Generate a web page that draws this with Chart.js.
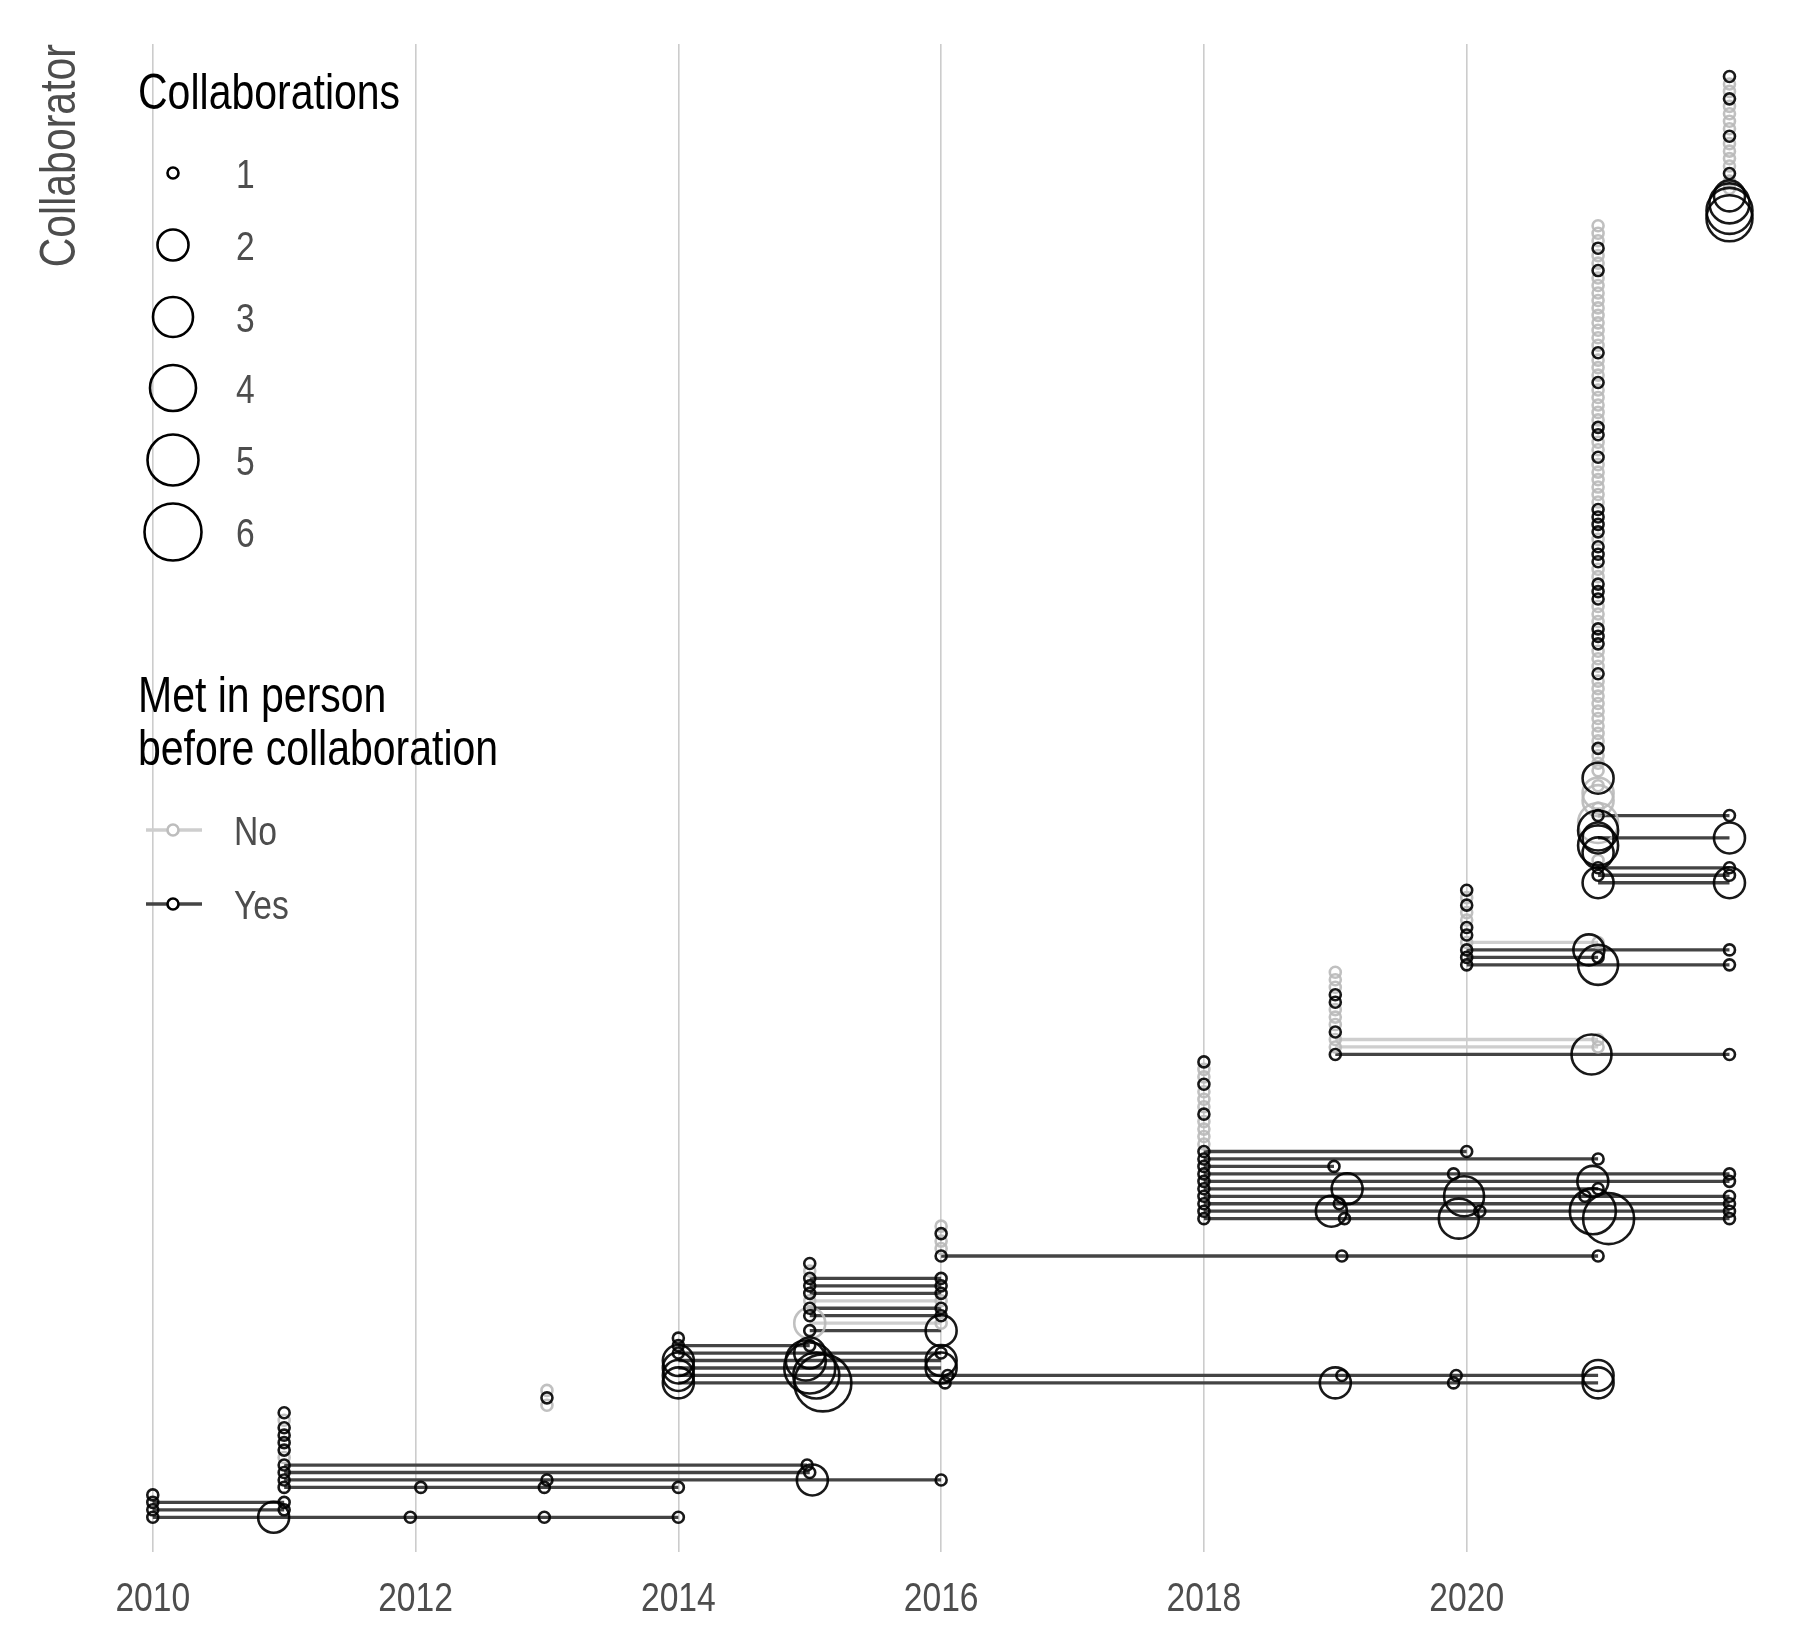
<!DOCTYPE html>
<html lang="en">
<head>
  <meta charset="UTF-8">
  <title>Collaborations over time</title>
  <script src="https://cdn.jsdelivr.net/npm/chart.js"></script>
  <style>
    html, body { margin: 0; padding: 0; background: #ffffff; }
    #wrap { width: 1800px; height: 1650px; }
  </style>
</head>
<body>
  <div id="wrap"><canvas id="collabChart" width="1800" height="1650"></canvas></div>

<script>
  // one row per collaborator, bottom to top, grouped by year of first collaboration.
  // a row is 'Y' / 'N' (met in person before? one collaboration in the cohort year)
  // or [met, year, count, year, count, ...]
  const cohortYears = [2010, 2011, 2013, 2014, 2015, 2016, 2018, 2019, 2020, 2021, 2022]

  const rows2010 = [
    ['Y', 2010, 1, 2010.92, 2, 2011.96, 1, 2012.98, 1, 2014, 1],
    ['Y', 2010, 1, 2011, 1],
    ['Y', 2010, 1, 2011, 1],
    'Y'
  ]
  const rows2011 = [
    ['Y', 2011, 1, 2012.04, 1, 2012.98, 1, 2014, 1],
    ['Y', 2011, 1, 2013, 1, 2015.02, 2, 2016, 1],
    ['Y', 2011, 1, 2015, 1],
    ['Y', 2011, 1, 2014.98, 1],
    ...'NYYYYNY'
  ]
  const rows2013 = [...'NYN']
  const rows2014 = [
    ['Y', 2014, 2, 2015.1, 6, 2016.03, 1, 2019, 2, 2019.9, 1, 2021, 2],
    ['Y', 2014, 2, 2015.05, 4, 2016.05, 1, 2019.05, 1, 2019.92, 1, 2021, 2],
    ['Y', 2014, 2, 2015, 5, 2016, 2],
    ['Y', 2014, 2, 2014.97, 3, 2016, 2],
    ['Y', 2014, 1, 2015, 2, 2016, 1],
    ['Y', 2014, 1, 2015, 1],
    'Y'
  ]
  const rows2015 = [
    ['Y', 2015, 1, 2016, 2],
    ['N', 2015, 2, 2016, 1],
    ['Y', 2015, 1, 2016, 1],
    ['Y', 2015, 1, 2016, 1],
    ['N', 2015, 1, 2016, 1],
    ['Y', 2015, 1, 2016, 1],
    ['Y', 2015, 1, 2016, 1],
    ['Y', 2015, 1, 2016, 1],
    'N', 'Y'
  ]
  const rows2016 = [
    ['Y', 2016, 1, 2019.05, 1, 2021, 1],
    ...'NNYN'
  ]
  const rows2018 = [
    ['Y', 2018, 1, 2019.07, 1, 2019.94, 3, 2021.08, 5, 2022, 1],
    ['Y', 2018, 1, 2018.97, 2, 2020.1, 1, 2020.96, 4, 2022, 1],
    ['Y', 2018, 1, 2019.03, 1, 2022, 1],
    ['Y', 2018, 1, 2019.98, 3, 2020.9, 1, 2022, 1],
    ['Y', 2018, 1, 2019.09, 2, 2021, 1],
    ['Y', 2018, 1, 2020.96, 2, 2022, 1],
    ['Y', 2018, 1, 2019.9, 1, 2022, 1],
    ['Y', 2018, 1, 2018.99, 1],
    ['Y', 2018, 1, 2021, 1],
    ['Y', 2018, 1, 2020, 1],
    ...'NNNNYNNNYNNY'
  ]
  const rows2019 = [
    ['Y', 2019, 1, 2020.95, 3, 2022, 1],
    ['N', 2019, 1, 2021, 1],
    ['N', 2019, 1, 2021, 1],
    ...'YNNNYYNNN'
  ]
  const rows2020 = [
    ['Y', 2020, 1, 2021, 3, 2022, 1],
    ['Y', 2020, 1, 2021, 1],
    ['Y', 2020, 1, 2020.93, 2, 2022, 1],
    ['N', 2020, 1, 2021, 1],
    ...'YYNNYNY'
  ]
  const rows2021 = [
    ['Y', 2021, 2, 2022, 2],
    ['Y', 2021, 1, 2022, 1],
    ['Y', 2021, 1, 2022, 1],
    'N',
    ['Y', 2021, 2],
    ['Y', 2021, 3],
    ['Y', 2021, 2, 2022, 2],
    ['Y', 2021, 3],
    ['N', 2021, 3],
    ['Y', 2021, 1, 2022, 1],
    'N',
    ['N', 2021, 2],
    ['N', 2021, 2],
    'N',
    ['Y', 2021, 2],
    'N', 'N', 'N', 'Y',
    ...'NNNNNNNNNY',
    ...'NNNYYYNNNY',
    ...'YYNNYYYNYY',
    ...'YYNNNNNNYN',
    ...'NYYNNNNNYN',
    ...'NNYNNNNNNN',
    ...'NNNYNNYNNN'
  ]
  const rows2022 = [
    ['Y', 2022, 4],
    ['Y', 2022, 4],
    ['Y', 2022, 3],
    ['Y', 2022, 2],
    ...'NNYNNNNYNNNNYNNY'
  ]
  const cohorts = [rows2010, rows2011, rows2013, rows2014, rows2015, rows2016,
                   rows2018, rows2019, rows2020, rows2021, rows2022]

  const xTicks = [2010, 2012, 2014, 2016, 2018, 2020]
  const sizeLegend = [1, 2, 3, 4, 5, 6]
  const metLegend = ['No', 'Yes']

  // Liberation Sans squeezed sideways stands in for the narrow face of the original
  const FONT = "'Liberation Sans', Arial, sans-serif"
  const NARROW = 0.82
  const radiusFor = [5.5, 15.5, 20, 23, 25.5, 28.5]
  const pointColour = { Y: 'rgba(0,0,0,0.9)', N: 'rgba(185,185,185,0.9)' }
  const lineColour = { Y: '#444444', N: '#cecece' }

  // flatten rows into points and segments
  let points = { Y: [], N: [] }
  let segments = []
  let rowNo = 0
  cohorts.forEach((rows, c) => {
    rows.forEach(r => {
      rowNo++
      if (typeof r === 'string') {
        points[r].push({ x: cohortYears[c], y: rowNo, n: 1 })
        return
      }
      let met = r[0]
      let years = []
      for (let i = 1; i < r.length; i += 2) {
        points[met].push({ x: r[i], y: rowNo, n: r[i + 1] })
        years.push(r[i])
      }
      if (years.length > 1) {
        segments.push({ met: met, y: rowNo, from: Math.min(...years), to: Math.max(...years) })
      }
    })
  })

  let datasets = []
  segments.forEach(s => {
    datasets.push({
      type: 'scatter',
      showLine: true,
      data: [{ x: s.from, y: s.y }, { x: s.to, y: s.y }],
      borderColor: lineColour[s.met],
      borderWidth: 3.3,
      pointRadius: 0,
      pointHoverRadius: 0,
      order: 2,
      clip: false
    })
  })
  ;['N', 'Y'].forEach((m, i) => {
    datasets.push({
      type: 'scatter',
      data: points[m],
      pointRadius: ctx => radiusFor[ctx.raw.n - 1],
      pointHoverRadius: ctx => radiusFor[ctx.raw.n - 1],
      pointBorderColor: pointColour[m],
      pointBackgroundColor: 'rgba(0,0,0,0)',
      pointBorderWidth: 2.6,
      pointHoverBorderWidth: 2.6,
      order: 1 - i,
      clip: false
    })
  })

  function narrowText(g, text, x, y, size, colour, align) {
    g.save()
    g.translate(x, y)
    g.scale(NARROW, 1)
    g.font = `${size}px ${FONT}`
    g.fillStyle = colour
    g.textAlign = align
    g.fillText(text, 0, 0)
    g.restore()
  }

  // tick labels, legends and y title, drawn next to the plot
  const sideLegend = {
    id: 'sideLegend',
    afterDraw(chart) {
      const g = chart.ctx
      const xs = chart.scales.x

      g.save()
      g.textBaseline = 'alphabetic'
      xTicks.forEach(v => narrowText(g, String(v), xs.getPixelForValue(v), 1611, 41, '#4d4d4d', 'center'))

      g.save()
      g.translate(75, 44)
      g.rotate(-Math.PI / 2)
      narrowText(g, 'Collaborator', 0, 0, 50, '#4d4d4d', 'right')
      g.restore()

      narrowText(g, 'Collaborations', 138, 109, 50, '#000000', 'left')
      narrowText(g, 'Met in person', 138, 712, 50, '#000000', 'left')
      narrowText(g, 'before collaboration', 138, 765, 50, '#000000', 'left')

      const keyY = [173, 245, 317, 388, 460, 532]
      sizeLegend.forEach((n, i) => {
        g.beginPath()
        g.arc(173, keyY[i], radiusFor[n - 1], 0, Math.PI * 2)
        g.strokeStyle = '#000000'
        g.lineWidth = 2.6
        g.stroke()
        narrowText(g, String(n), 236, keyY[i] + 15, 41, '#4d4d4d', 'left')
      })

      const metY = [830, 904]
      metLegend.forEach((lab, i) => {
        const m = lab === 'Yes' ? 'Y' : 'N'
        g.beginPath()
        g.moveTo(146, metY[i])
        g.lineTo(202, metY[i])
        g.strokeStyle = lineColour[m]
        g.lineWidth = 3.3
        g.stroke()
        g.beginPath()
        g.arc(173, metY[i], radiusFor[0], 0, Math.PI * 2)
        g.fillStyle = '#ffffff'
        g.fill()
        g.strokeStyle = m === 'Y' ? '#000000' : '#bdbdbd'
        g.lineWidth = 2.6
        g.stroke()
        narrowText(g, lab, 234, metY[i] + 15, 41, '#4d4d4d', 'left')
      })
      g.restore()
    }
  }

  new Chart(document.getElementById('collabChart'), {
    data: { datasets: datasets },
    plugins: [sideLegend],
    options: {
      responsive: false,
      animation: false,
      devicePixelRatio: 1,
      events: [],
      layout: { padding: { left: 126.5, right: 16, top: 44, bottom: 0 } },
      plugins: {
        legend: { display: false },
        tooltip: { enabled: false }
      },
      scales: {
        x: {
          type: 'linear',
          min: 2009.8,
          max: 2022.3,
          afterBuildTicks: s => { s.ticks = xTicks.map(v => ({ value: v })) },
          afterFit: s => { s.height = 98 },
          grid: { color: '#cccccc', lineWidth: 1.6, drawTicks: false },
          border: { display: false },
          ticks: { display: false }
        },
        y: {
          type: 'linear',
          min: -3.65,
          max: 198.35,
          display: false
        }
      }
    }
  })
</script>
</body>
</html>
